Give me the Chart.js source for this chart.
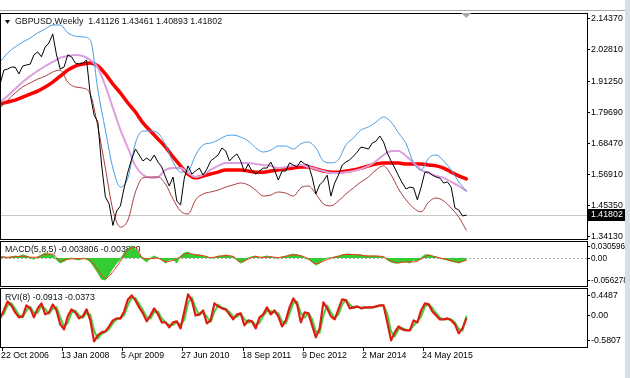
<!DOCTYPE html>
<html>
<head>
<meta charset="utf-8">
<script src="https://cdn.jsdelivr.net/npm/chart.js@4.4.1/dist/chart.umd.min.js"></script>
<style>
  html, body { margin: 0; padding: 0; background: #fff; }
  body { width: 630px; height: 378px; position: relative; overflow: hidden; }
  canvas { position: absolute; left: 0; }
  #frame { position: absolute; left: 0; top: 10px; width: 625px; height: 1px; background: #a8a8a8; }
  #strip { position: absolute; left: 625px; top: 0; width: 5px; height: 378px; background: #d9dfe6; }
</style>
</head>
<body>
<div id="frame"></div>
<canvas id="priceChart" width="630" height="241" style="top:0"></canvas>
<canvas id="macdChart" width="630" height="48" style="top:240px"></canvas>
<canvas id="rviChart" width="630" height="90" style="top:288px"></canvas>
<div id="strip"></div>
<script>
// weeks are counted from 22 Oct 2006
const weekStart = -2;
const fineStep = 4;    // close, macd, rvi
const coarseStep = 8;  // bands, macd signal

const dateLabels = ['22 Oct 2006', '13 Jan 2008', '5 Apr 2009', '27 Jun 2010', '18 Sep 2011', '9 Dec 2012', '2 Mar 2014', '24 May 2015'];
const dateWeeks = [0, 64, 128, 192, 256, 320, 384, 448];

const priceTicks = [2.14370, 2.02810, 1.91250, 1.79690, 1.68470, 1.56910, 1.45350, 1.34130];
const macdTicks = [0.030596, 0, -0.056278];
const macdTickText = ['0.030596', '0.00', '-0.056278'];
const rviTicks = [0.4487, 0, -0.5807];
const rviTickText = ['0.4487', '0.00', '-0.5807'];
const lastPrice = 1.41802;

const closeSeries = [
  1.900, 1.951, 1.955, 1.962, 1.962, 1.937, 1.966, 1.970, 1.973, 2.007,
  2.018, 2.000, 2.036, 2.051, 2.084, 2.007, 1.955, 1.962, 2.007, 2.000,
  1.977, 1.973, 1.977, 1.988, 1.860, 1.786, 1.760, 1.602, 1.485, 1.459,
  1.380, 1.433, 1.452, 1.518, 1.577, 1.624, 1.661, 1.639, 1.617, 1.628,
  1.617, 1.639, 1.613, 1.595, 1.558, 1.525, 1.558, 1.470, 1.455, 1.554,
  1.599, 1.569, 1.580, 1.591, 1.565, 1.587, 1.617, 1.628, 1.639, 1.665,
  1.654, 1.617, 1.632, 1.643, 1.617, 1.577, 1.606, 1.580, 1.569, 1.580,
  1.591, 1.591, 1.613, 1.584, 1.547, 1.580, 1.580, 1.610, 1.602, 1.595,
  1.617, 1.606, 1.602, 1.558, 1.496, 1.529, 1.543, 1.565, 1.488, 1.536,
  1.565, 1.602, 1.613, 1.621, 1.635, 1.650, 1.668, 1.665, 1.661, 1.683,
  1.690, 1.709, 1.687, 1.646, 1.617, 1.591, 1.562, 1.536, 1.514, 1.521,
  1.518, 1.474, 1.521, 1.576, 1.576, 1.565, 1.558, 1.554, 1.536, 1.540,
  1.521, 1.444, 1.437, 1.415, 1.418
];

const upperBand = [
  1.981, 2.014, 2.036, 2.054, 2.069, 2.088, 2.102, 2.117, 2.117, 2.088,
  2.076, 2.073, 2.062, 1.878, 1.731, 1.591, 1.521, 1.555, 1.683, 1.727,
  1.727, 1.720, 1.676, 1.613, 1.576, 1.580, 1.639, 1.676, 1.683, 1.694,
  1.709, 1.712, 1.705, 1.691, 1.665, 1.650, 1.657, 1.672, 1.672, 1.661,
  1.680, 1.687, 1.665, 1.617, 1.610, 1.621, 1.676, 1.702, 1.731, 1.742,
  1.760, 1.779, 1.760, 1.720, 1.680, 1.610, 1.584, 1.628, 1.639, 1.617,
  1.584, 1.540, 1.507
];

const pinkLine = [
  1.834, 1.856, 1.882, 1.907, 1.929, 1.948, 1.966, 1.981, 1.996, 2.003,
  2.007, 2.003, 1.988, 1.959, 1.893, 1.812, 1.731, 1.665, 1.599, 1.566,
  1.555, 1.558, 1.584, 1.591, 1.591, 1.573, 1.558, 1.566, 1.584, 1.599,
  1.610, 1.610, 1.610, 1.610, 1.606, 1.602, 1.599, 1.591, 1.595, 1.599,
  1.602, 1.595, 1.588, 1.580, 1.573, 1.573, 1.576, 1.580, 1.588, 1.599,
  1.617, 1.639, 1.654, 1.654, 1.635, 1.610, 1.584, 1.573, 1.562, 1.555,
  1.540, 1.525, 1.507
];

const redLine = [
  1.826, 1.834, 1.841, 1.852, 1.863, 1.874, 1.889, 1.907, 1.929, 1.951,
  1.966, 1.973, 1.977, 1.966, 1.937, 1.900, 1.867, 1.830, 1.797, 1.757,
  1.727, 1.698, 1.668, 1.632, 1.599, 1.569, 1.555, 1.562, 1.569, 1.576,
  1.584, 1.584, 1.584, 1.580, 1.576, 1.576, 1.580, 1.584, 1.588, 1.591,
  1.595, 1.595, 1.588, 1.580, 1.576, 1.576, 1.580, 1.584, 1.591, 1.599,
  1.606, 1.610, 1.610, 1.610, 1.606, 1.606, 1.606, 1.602, 1.599, 1.591,
  1.576, 1.562, 1.551
];

const lowerBand = [
  1.812, 1.841, 1.867, 1.889, 1.904, 1.918, 1.929, 1.944, 1.951, 1.907,
  1.889, 1.885, 1.863, 1.742, 1.591, 1.437, 1.374, 1.400, 1.503, 1.555,
  1.558, 1.558, 1.532, 1.477, 1.433, 1.422, 1.474, 1.496, 1.503, 1.510,
  1.521, 1.529, 1.536, 1.529, 1.510, 1.488, 1.492, 1.503, 1.499, 1.488,
  1.518, 1.525, 1.496, 1.459, 1.452, 1.470, 1.496, 1.518, 1.540, 1.558,
  1.584, 1.599, 1.566, 1.514, 1.474, 1.444, 1.430, 1.466, 1.481, 1.470,
  1.444, 1.411, 1.363
];

const macdHist = [
  0.003, 0.003, 0.000, 0.003, 0.005, 0.003, 0.008, 0.005, 0.000, -0.003,
  0.003, 0.008, 0.013, 0.010, 0.008, -0.005, -0.013, -0.008, -0.003, 0.000,
  -0.003, -0.005, 0.000, -0.003, -0.010, -0.023, -0.038, -0.054, -0.056, -0.041,
  -0.026, -0.013, -0.003, 0.013, 0.023, 0.031, 0.023, 0.010, -0.003, -0.010,
  0.000, 0.005, 0.000, -0.005, -0.013, -0.005, -0.003, -0.013, 0.005, 0.013,
  0.015, 0.008, 0.008, 0.008, 0.005, 0.003, 0.000, 0.000, 0.005, 0.005,
  0.008, 0.005, 0.003, -0.005, -0.013, -0.008, 0.000, 0.003, 0.005, 0.000,
  0.003, 0.005, 0.003, 0.000, 0.000, 0.003, 0.005, 0.008, 0.010, 0.008,
  0.005, 0.000, -0.003, -0.010, -0.018, -0.013, -0.005, 0.000, 0.000, 0.003,
  0.005, 0.008, 0.010, 0.010, 0.008, 0.008, 0.008, 0.005, 0.005, 0.005,
  0.005, 0.003, 0.003, -0.005, -0.010, -0.013, -0.013, -0.010, -0.010, -0.013,
  -0.005, -0.008, 0.000, 0.008, 0.008, 0.005, 0.003, 0.000, -0.003, -0.005,
  -0.008, -0.010, -0.013, -0.008, -0.004
];

const macdSignal = [
  0.002, 0.002, 0.003, 0.005, 0.002, 0.002, 0.010, 0.010, -0.008, -0.003,
  -0.002, -0.002, -0.006, -0.030, -0.052, -0.035, -0.008, 0.020, 0.027, 0.000,
  -0.002, 0.000, -0.010, -0.006, 0.003, 0.012, 0.008, 0.006, 0.001, 0.004,
  0.006, 0.004, -0.010, -0.003, 0.004, 0.001, 0.003, 0.001, 0.004, 0.008,
  0.006, -0.002, -0.015, -0.008, 0.000, 0.004, 0.009, 0.009, 0.007, 0.005,
  0.005, 0.003, -0.008, -0.012, -0.010, -0.010, -0.003, 0.007, 0.002, -0.002,
  -0.007, -0.011, -0.006
];

const rviMain = [
  -0.078, 0.105, 0.311, 0.220, 0.059, -0.055, -0.032, 0.220, 0.151, -0.055,
  0.151, 0.265, 0.014, 0.059, 0.243, 0.105, -0.215, -0.329, -0.032, 0.128,
  0.059, -0.078, -0.032, 0.128, -0.124, -0.604, -0.467, -0.398, -0.375, -0.261,
  -0.124, -0.078, -0.078, 0.082, 0.357, 0.449, 0.334, 0.174, 0.037, -0.146,
  -0.009, 0.151, 0.014, -0.169, -0.169, -0.284, -0.169, -0.146, -0.307, 0.082,
  0.471, 0.334, -0.009, 0.014, 0.105, -0.192, -0.124, 0.265, 0.197, 0.151,
  0.128, 0.014, -0.101, 0.014, 0.037, -0.238, -0.124, -0.146, -0.307, -0.055,
  0.014, 0.174, 0.014, 0.105, -0.032, -0.261, -0.124, 0.174, 0.380, 0.243,
  -0.169, 0.059, 0.037, -0.238, -0.513, -0.307, 0.288, 0.151, -0.032, -0.101,
  0.128, 0.357, 0.334, 0.151, 0.174, 0.197, 0.151, 0.174, 0.174, 0.174,
  0.197, 0.220, 0.220, -0.169, -0.581, -0.398, -0.261, -0.329, -0.352, -0.352,
  -0.124, -0.169, 0.105, 0.265, 0.243, 0.082, -0.009, -0.101, -0.101, -0.078,
  -0.124, -0.215, -0.421, -0.307, -0.091
];

const rviSignal = [
  -0.05, 0.03, 0.22, 0.27, 0.14, 0.00, -0.05, 0.10, 0.19, 0.05,
  0.05, 0.21, 0.14, 0.03, 0.15, 0.18, -0.05, -0.28, -0.18, 0.05,
  0.10, -0.01, -0.06, 0.05, 0.00, -0.36, -0.54, -0.43, -0.39, -0.32,
  -0.19, -0.10, -0.08, 0.00, 0.22, 0.40, 0.39, 0.25, 0.11, -0.05,
  -0.08, 0.07, 0.08, -0.08, -0.17, -0.23, -0.23, -0.16, -0.23, -0.11,
  0.28, 0.40, 0.16, 0.00, 0.06, -0.04, -0.16, 0.07, 0.23, 0.17,
  0.14, 0.07, -0.04, -0.04, 0.03, -0.10, -0.18, -0.14, -0.23, -0.18,
  -0.02, 0.09, 0.09, 0.06, 0.04, -0.15, -0.19, 0.03, 0.28, 0.31,
  0.04, -0.06, 0.05, -0.10, -0.38, -0.41, -0.01, 0.22, 0.06, -0.07,
  0.01, 0.24, 0.35, 0.24, 0.16, 0.19, 0.17, 0.16, 0.17, 0.17,
  0.19, 0.21, 0.22, 0.03, -0.38, -0.49, -0.33, -0.30, -0.34, -0.35,
  -0.24, -0.15, -0.03, 0.19, 0.25, 0.16, 0.04, -0.06, -0.10, -0.09,
  -0.10, -0.17, -0.32, -0.36, -0.04
];

const FONT = '8.8px "Liberation Sans", Arial, sans-serif';
const X_MIN = -1.06, X_MAX = 622.5;

function pts(arr, step) {   // values -> {x: week, y: value}
    return arr.map((v, i) => ({ x: weekStart + i * step, y: v }));
}

function baseOptions(yMin, yMax, padding) {
    return {
        responsive: false,
        animation: false,
        events: [],
        layout: { padding: padding },
        plugins: { legend: { display: false }, tooltip: { enabled: false } },
        elements: {
            point: { radius: 0 },
            line: { tension: 0, borderJoinStyle: 'round', borderCapStyle: 'round' }
        },
        scales: {
            x: { type: 'linear', min: X_MIN, max: X_MAX, display: false },
            y: { type: 'linear', min: yMin, max: yMax, display: false }
        }
    };
}

function panelDecor(cfg) {   // borders, right axis labels, titles
    return {
        id: 'panelDecor',
        beforeDatasetsDraw(chart) {
            const ctx = chart.ctx, a = chart.chartArea, ys = chart.scales.y;
            ctx.save();
            if (cfg.zeroLine) {
                const py = Math.round(ys.getPixelForValue(0)) + 0.5;
                ctx.strokeStyle = '#b0b0b0';
                ctx.lineWidth = 1;
                ctx.setLineDash([2, 2]);
                ctx.beginPath(); ctx.moveTo(a.left, py); ctx.lineTo(a.right, py); ctx.stroke();
                ctx.setLineDash([]);
            }
            if (cfg.bid !== undefined) {
                const py = Math.round(ys.getPixelForValue(cfg.bid)) + 0.5;
                ctx.strokeStyle = '#c8c8c8';
                ctx.lineWidth = 1;
                ctx.beginPath(); ctx.moveTo(a.left, py); ctx.lineTo(a.right, py); ctx.stroke();
            }
            if (cfg.title && !cfg.titleOnTop) drawTitle(ctx, a, cfg);
            ctx.restore();
        },
        afterDraw(chart) {
            const ctx = chart.ctx, a = chart.chartArea, ys = chart.scales.y, xs = chart.scales.x;
            ctx.save();
            ctx.strokeStyle = '#000';
            ctx.lineWidth = 1;
            ctx.strokeRect(a.left - 0.5, a.top - 0.5, a.right - a.left + 1, a.bottom - a.top + 1);

            ctx.font = cfg.labelFont || FONT;
            ctx.fillStyle = '#000';
            ctx.textBaseline = 'middle';
            ctx.textAlign = 'left';
            cfg.ticks.forEach((v, i) => {
                const py = Math.round(ys.getPixelForValue(v)) + 0.5;
                ctx.beginPath(); ctx.moveTo(a.right, py); ctx.lineTo(a.right + 3, py); ctx.stroke();
                ctx.fillText(cfg.tickText ? cfg.tickText[i] : v.toFixed(5), a.right + 4, py);
            });
            ctx.font = FONT;

            if (cfg.bid !== undefined) {
                const py = Math.round(ys.getPixelForValue(cfg.bid));
                ctx.fillStyle = '#000';
                ctx.fillRect(a.right + 1, py - 6, 38, 12);
                ctx.fillStyle = '#fff';
                ctx.fillText(cfg.bid.toFixed(5), a.right + 4, py);
            }

            if (cfg.shiftMark !== undefined) {
                const px = xs.getPixelForValue(cfg.shiftMark);
                ctx.fillStyle = '#a8a8a8';
                ctx.beginPath();
                ctx.moveTo(px - 5, a.top - 1); ctx.lineTo(px + 5, a.top - 1); ctx.lineTo(px, a.top + 4);
                ctx.closePath(); ctx.fill();
            }

            if (cfg.dates) {
                ctx.fillStyle = '#000';
                dateWeeks.forEach((w, i) => {
                    const px = Math.round(xs.getPixelForValue(w)) + 0.5;
                    ctx.beginPath(); ctx.moveTo(px, a.bottom); ctx.lineTo(px, a.bottom + 4); ctx.stroke();
                    ctx.fillText(dateLabels[i], px - 1.5, a.bottom + 9);
                });
            }

            if (cfg.title && cfg.titleOnTop) drawTitle(ctx, a, cfg);
            ctx.restore();
        }
    };
}

function drawTitle(ctx, a, cfg) {
    ctx.font = FONT;
    ctx.fillStyle = '#111';
    ctx.textBaseline = 'middle';
    ctx.textAlign = 'left';
    if (cfg.arrow) {
        const ty = a.top + cfg.titleDy;
        ctx.beginPath();
        ctx.moveTo(5, ty - 2); ctx.lineTo(10, ty - 2); ctx.lineTo(7.5, ty + 2);
        ctx.closePath(); ctx.fill();
    }
    ctx.fillText(cfg.title, cfg.titleX, a.top + cfg.titleDy);
}

// Price window
new Chart(document.getElementById('priceChart'), {
    type: 'line',
    data: {
        datasets: [
            { data: pts(closeSeries, fineStep), borderColor: '#000', borderWidth: 1, order: 0 },
            { data: pts(lowerBand, coarseStep), borderColor: '#a83c3c', borderWidth: 1, order: 1, cubicInterpolationMode: 'monotone' },
            { data: pts(upperBand, coarseStep), borderColor: '#4a9be4', borderWidth: 1, order: 2, cubicInterpolationMode: 'monotone' },
            { data: pts(pinkLine, coarseStep), borderColor: '#dc9fe0', borderWidth: 2, order: 3, cubicInterpolationMode: 'monotone' },
            { data: pts(redLine, coarseStep), borderColor: '#ff0000', borderWidth: 3.5, order: 4, cubicInterpolationMode: 'monotone' }
        ]
    },
    options: baseOptions(1.3302, 2.1573, { left: 1, top: 14, right: 43, bottom: 2 }),
    plugins: [panelDecor({
        ticks: priceTicks, bid: lastPrice,
        title: 'GBPUSD,Weekly  1.41126 1.43461 1.40893 1.41802', titleX: 15, titleDy: 8, arrow: true, titleOnTop: true,
        shiftMark: weekStart + (closeSeries.length - 1) * fineStep
    })]
});

// MACD window
new Chart(document.getElementById('macdChart'), {
    type: 'line',
    data: {
        datasets: [
            { data: pts(macdSignal, coarseStep), borderColor: '#ff3018', borderWidth: 1, order: 0, cubicInterpolationMode: 'monotone' },
            { data: pts(macdHist, fineStep), borderColor: '#33cc33', backgroundColor: '#33cc33', borderWidth: 1, fill: 'origin', order: 1 }
        ]
    },
    options: baseOptions(-0.0714, 0.0408, { left: 1, top: 2, right: 43, bottom: 2 }),
    plugins: [panelDecor({
        ticks: macdTicks, tickText: macdTickText, zeroLine: true,
        labelFont: '8.2px "Liberation Sans", Arial, sans-serif',
        title: 'MACD(5,8,5) -0.003806 -0.003880', titleX: 5, titleDy: 8
    })]
});

// RVI window
new Chart(document.getElementById('rviChart'), {
    type: 'line',
    data: {
        datasets: [
            { data: pts(rviMain, fineStep), borderColor: '#e01a10', borderWidth: 2.2, order: 0 },
            { data: pts(rviSignal, fineStep), borderColor: '#44d044', borderWidth: 2, order: 1 }
        ]
    },
    options: baseOptions(-0.733, 0.595, { left: 1, top: 1, right: 43, bottom: 31 }),
    plugins: [panelDecor({
        ticks: rviTicks, tickText: rviTickText, dates: true,
        title: 'RVI(8) -0.0913 -0.0373', titleX: 5, titleDy: 9
    })]
});
</script>
</body>
</html>
